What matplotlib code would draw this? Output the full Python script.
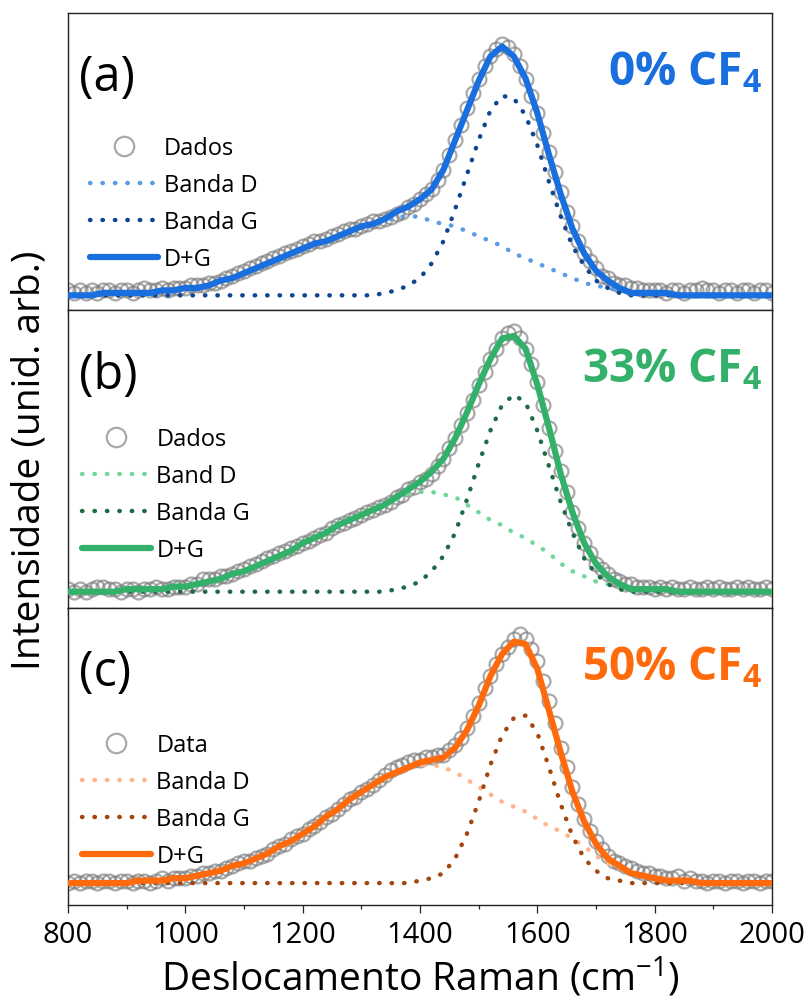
import numpy as np
import matplotlib
matplotlib.use('Agg')
import matplotlib.pyplot as plt
from matplotlib.ticker import MultipleLocator

plt.rcParams['font.family'] = ['Open Sans', 'DejaVu Sans']
plt.rcParams['mathtext.fontset'] = 'custom'
plt.rcParams['mathtext.rm'] = 'Open Sans'
plt.rcParams['mathtext.bf'] = 'Open Sans:bold'

# Raman shift grids (cm-1): fitted bands every 20, measured spectrum every 10
shift_fit = np.arange(800, 2001, 20)
shift_data = np.arange(800, 2001, 10)

# 0% CF4
band_d_0 = [0.00, 0.00, 0.00, 0.01, 0.01, 0.01, 0.01, 0.01, 0.02, 0.02,
            0.03, 0.03, 0.04, 0.06, 0.07, 0.09, 0.11, 0.13, 0.15, 0.17,
            0.19, 0.21, 0.22, 0.24, 0.26, 0.28, 0.29, 0.30, 0.32, 0.32,
            0.32, 0.30, 0.29, 0.28, 0.26, 0.24, 0.22, 0.20, 0.17, 0.15,
            0.13, 0.11, 0.09, 0.07, 0.05, 0.04, 0.03, 0.02, 0.01, 0.01,
            0.01, 0.01, 0.00, 0.00, 0.00, 0.00, 0.00, 0.00, 0.00, 0.00, 0.00]
band_g_0 = [0.00, 0.00, 0.00, 0.00, 0.00, 0.00, 0.00, 0.00, 0.00, 0.00,
            0.00, 0.00, 0.00, 0.00, 0.00, 0.00, 0.00, 0.00, 0.00, 0.00,
            0.00, 0.00, 0.00, 0.00, 0.00, 0.00, 0.00, 0.01, 0.02, 0.04,
            0.07, 0.13, 0.22, 0.35, 0.49, 0.63, 0.75, 0.81, 0.80, 0.73,
            0.61, 0.46, 0.32, 0.20, 0.12, 0.06, 0.03, 0.01, 0.00, 0.00,
            0.00, 0.00, 0.00, 0.00, 0.00, 0.00, 0.00, 0.00, 0.00, 0.00, 0.00]
spectrum_0 = [0.02, 0.01, 0.02, 0.01, 0.02, 0.01, 0.02, 0.02, 0.01, 0.02,
              0.02, 0.01, 0.02, 0.03, 0.02, 0.02, 0.03, 0.02, 0.03, 0.03,
              0.03, 0.04, 0.04, 0.04, 0.05, 0.05, 0.06, 0.07, 0.08, 0.09,
              0.10, 0.11, 0.12, 0.13, 0.14, 0.15, 0.16, 0.17, 0.18, 0.19,
              0.20, 0.21, 0.22, 0.22, 0.23, 0.24, 0.25, 0.26, 0.27, 0.27,
              0.28, 0.29, 0.30, 0.30, 0.31, 0.32, 0.33, 0.34, 0.36, 0.37,
              0.39, 0.41, 0.43, 0.47, 0.51, 0.57, 0.63, 0.69, 0.76, 0.82,
              0.88, 0.93, 0.97, 1.00, 1.02, 1.01, 0.98, 0.93, 0.88, 0.81,
              0.74, 0.66, 0.58, 0.50, 0.42, 0.34, 0.28, 0.22, 0.17, 0.14,
              0.11, 0.08, 0.07, 0.05, 0.04, 0.04, 0.03, 0.03, 0.02, 0.02,
              0.02, 0.02, 0.01, 0.02, 0.02, 0.01, 0.02, 0.02, 0.03, 0.02,
              0.02, 0.01, 0.02, 0.02, 0.01, 0.02, 0.02, 0.01, 0.02, 0.02, 0.01]

# 33% CF4
band_d_33 = [0.00, 0.00, 0.00, 0.00, 0.00, 0.01, 0.01, 0.01, 0.01, 0.02,
             0.02, 0.03, 0.04, 0.05, 0.07, 0.08, 0.10, 0.12, 0.14, 0.16,
             0.19, 0.21, 0.23, 0.26, 0.28, 0.30, 0.32, 0.34, 0.36, 0.38,
             0.39, 0.39, 0.38, 0.37, 0.34, 0.31, 0.28, 0.26, 0.23, 0.21,
             0.18, 0.15, 0.11, 0.08, 0.06, 0.04, 0.03, 0.02, 0.01, 0.01,
             0.01, 0.01, 0.00, 0.00, 0.00, 0.00, 0.00, 0.00, 0.00, 0.00, 0.00]
band_g_33 = [0.00, 0.00, 0.00, 0.00, 0.00, 0.00, 0.00, 0.00, 0.00, 0.00,
             0.00, 0.00, 0.00, 0.00, 0.00, 0.00, 0.00, 0.00, 0.00, 0.00,
             0.00, 0.00, 0.00, 0.00, 0.00, 0.00, 0.00, 0.00, 0.01, 0.02,
             0.04, 0.08, 0.14, 0.23, 0.36, 0.50, 0.63, 0.73, 0.77, 0.74,
             0.63, 0.49, 0.35, 0.23, 0.13, 0.07, 0.03, 0.01, 0.00, 0.00,
             0.00, 0.00, 0.00, 0.00, 0.00, 0.00, 0.00, 0.00, 0.00, 0.00, 0.00]
spectrum_33 = [0.01, 0.00, 0.01, 0.00, 0.01, 0.02, 0.02, 0.01, 0.01, 0.00,
               0.01, 0.01, 0.00, 0.01, 0.01, 0.02, 0.01, 0.01, 0.02, 0.02,
               0.02, 0.03, 0.03, 0.05, 0.05, 0.05, 0.06, 0.06, 0.07, 0.08,
               0.09, 0.10, 0.11, 0.12, 0.13, 0.14, 0.15, 0.16, 0.17, 0.18,
               0.19, 0.20, 0.21, 0.22, 0.23, 0.25, 0.26, 0.27, 0.28, 0.29,
               0.30, 0.31, 0.32, 0.33, 0.34, 0.35, 0.37, 0.38, 0.40, 0.41,
               0.43, 0.44, 0.46, 0.49, 0.52, 0.56, 0.60, 0.65, 0.70, 0.75,
               0.81, 0.86, 0.91, 0.95, 0.99, 1.01, 1.02, 0.99, 0.95, 0.89,
               0.82, 0.73, 0.64, 0.55, 0.47, 0.39, 0.31, 0.25, 0.19, 0.15,
               0.11, 0.09, 0.07, 0.05, 0.04, 0.03, 0.03, 0.02, 0.02, 0.02,
               0.01, 0.02, 0.01, 0.02, 0.01, 0.01, 0.02, 0.01, 0.01, 0.02,
               0.01, 0.02, 0.01, 0.01, 0.02, 0.01, 0.02, 0.01, 0.01, 0.02, 0.01]

# 50% CF4
band_d_50 = [0.00, 0.00, 0.00, 0.00, 0.00, 0.00, 0.01, 0.01, 0.01, 0.02,
             0.02, 0.03, 0.04, 0.05, 0.07, 0.08, 0.10, 0.12, 0.15, 0.17,
             0.20, 0.23, 0.27, 0.30, 0.34, 0.37, 0.40, 0.43, 0.45, 0.47,
             0.48, 0.48, 0.47, 0.45, 0.42, 0.39, 0.36, 0.33, 0.31, 0.29,
             0.26, 0.23, 0.21, 0.18, 0.15, 0.11, 0.08, 0.06, 0.04, 0.03,
             0.02, 0.01, 0.01, 0.01, 0.00, 0.00, 0.00, 0.00, 0.00, 0.00, 0.00]
band_g_50 = [0.00, 0.00, 0.00, 0.00, 0.00, 0.00, 0.00, 0.00, 0.00, 0.00,
             0.00, 0.00, 0.00, 0.00, 0.00, 0.00, 0.00, 0.00, 0.00, 0.00,
             0.00, 0.00, 0.00, 0.00, 0.00, 0.00, 0.00, 0.00, 0.00, 0.00,
             0.01, 0.02, 0.04, 0.10, 0.20, 0.33, 0.48, 0.60, 0.67, 0.68,
             0.61, 0.47, 0.32, 0.19, 0.10, 0.05, 0.02, 0.01, 0.00, 0.00,
             0.00, 0.00, 0.00, 0.00, 0.00, 0.00, 0.00, 0.00, 0.00, 0.00, 0.00]
spectrum_50 = [0.00, 0.01, 0.00, 0.01, 0.01, 0.00, 0.01, 0.01, 0.00, 0.01,
               0.01, 0.00, 0.01, 0.01, 0.00, 0.01, 0.02, 0.01, 0.02, 0.02,
               0.02, 0.03, 0.03, 0.04, 0.04, 0.05, 0.05, 0.06, 0.07, 0.08,
               0.09, 0.09, 0.10, 0.11, 0.12, 0.14, 0.15, 0.16, 0.18, 0.19,
               0.20, 0.22, 0.23, 0.25, 0.27, 0.28, 0.30, 0.32, 0.34, 0.35,
               0.37, 0.38, 0.40, 0.42, 0.44, 0.46, 0.47, 0.48, 0.49, 0.50,
               0.50, 0.51, 0.51, 0.52, 0.52, 0.54, 0.56, 0.59, 0.63, 0.68,
               0.73, 0.79, 0.84, 0.89, 0.93, 0.96, 0.99, 1.01, 0.99, 0.95,
               0.90, 0.82, 0.74, 0.65, 0.55, 0.47, 0.39, 0.32, 0.26, 0.21,
               0.17, 0.14, 0.11, 0.09, 0.08, 0.07, 0.06, 0.05, 0.04, 0.04,
               0.03, 0.03, 0.02, 0.02, 0.03, 0.01, 0.02, 0.01, 0.01, 0.00,
               0.01, 0.01, 0.00, 0.01, 0.01, 0.00, 0.01, 0.01, 0.00, 0.01, 0.01]

panels = [
    dict(tag='(a)', title=r'0% CF$_{\mathbf{4}}$', spectrum=spectrum_0,
         d=band_d_0, g=band_g_0,
         labels=['Dados', 'Banda D', 'Banda G', 'D+G'],
         colors=('#1a6fde', '#5b9ce9', '#0f4592'),
         ylim=(-0.061, 1.146), leg=(0.031, 0.587)),
    dict(tag='(b)', title=r'33% CF$_{\mathbf{4}}$', spectrum=spectrum_33,
         d=band_d_33, g=band_g_33,
         labels=['Dados', 'Band D', 'Banda G', 'D+G'],
         colors=('#33b06a', '#72d69c', '#1f6b45'),
         ylim=(-0.0625, 1.10), leg=(0.020, 0.607)),
    dict(tag='(c)', title=r'50% CF$_{\mathbf{4}}$', spectrum=spectrum_50,
         d=band_d_50, g=band_g_50,
         labels=['Data', 'Banda D', 'Banda G', 'D+G'],
         colors=('#ff6a0c', '#ffb48c', '#a5460e'),
         ylim=(-0.089, 1.118), leg=(0.020, 0.577)),
]

dotted = (0, (0.1, 2.7))


def plot_panel(ax, p):
    fit_color, d_color, g_color = p['colors']
    d = np.array(p['d'])
    g = np.array(p['g'])

    ax.plot(shift_data, p['spectrum'], 'o', ms=10, mfc='none', mec='#7c7c7c',
            mew=1.6, alpha=0.65, label=p['labels'][0], zorder=1)
    ax.plot(shift_fit, d, color=d_color, lw=3.2, ls=dotted,
            dash_capstyle='round', label=p['labels'][1], zorder=2)
    ax.plot(shift_fit, g, color=g_color, lw=3.2, ls=dotted,
            dash_capstyle='round', label=p['labels'][2], zorder=2)
    ax.plot(shift_fit, d + g, color=fit_color, lw=4.5,
            solid_capstyle='round', label=p['labels'][3], zorder=3)

    ax.set_ylim(p['ylim'])
    ax.set_yticks([])
    ax.text(0.016, 0.74, p['tag'], transform=ax.transAxes, fontsize=35,
            va='baseline', ha='left')
    ax.text(0.986, 0.76, p['title'], transform=ax.transAxes, fontsize=33,
            fontweight='bold', color=fit_color, va='baseline', ha='right')

    ax.legend(loc='upper left', bbox_to_anchor=p['leg'], frameon=False,
              fontsize=17, handlelength=2.9, handletextpad=0.25,
              labelspacing=0.55, borderpad=0, borderaxespad=0,
              markerscale=1.4)


fig, axes = plt.subplots(3, 1, sharex=True, figsize=(8.1, 10.03), dpi=100,
                         gridspec_kw=dict(hspace=0))
plt.subplots_adjust(left=0.084, right=0.953, bottom=0.0967, top=0.986)

for ax, p in zip(axes, panels):
    plot_panel(ax, p)
    for s in ax.spines.values():
        s.set_linewidth(1.0)
        s.set_color('#222222')
    ax.tick_params(axis='x', which='major', direction='out', length=6,
                   width=0.9, labelsize=21, pad=5, color='#222222')
    ax.tick_params(axis='x', which='minor', direction='out', length=3,
                   width=0.9, color='#222222')

axes[-1].set_xlim(800, 2000)
axes[-1].xaxis.set_major_locator(MultipleLocator(200))
axes[-1].xaxis.set_minor_locator(MultipleLocator(100))
axes[-1].set_xlabel(r'Deslocamento Raman (cm$^{-1}$)', fontsize=28, labelpad=4)
axes[1].set_ylabel('Intensidade (unid. arb.)', fontsize=28, labelpad=14)

fig.savefig('out.png', dpi=100)
